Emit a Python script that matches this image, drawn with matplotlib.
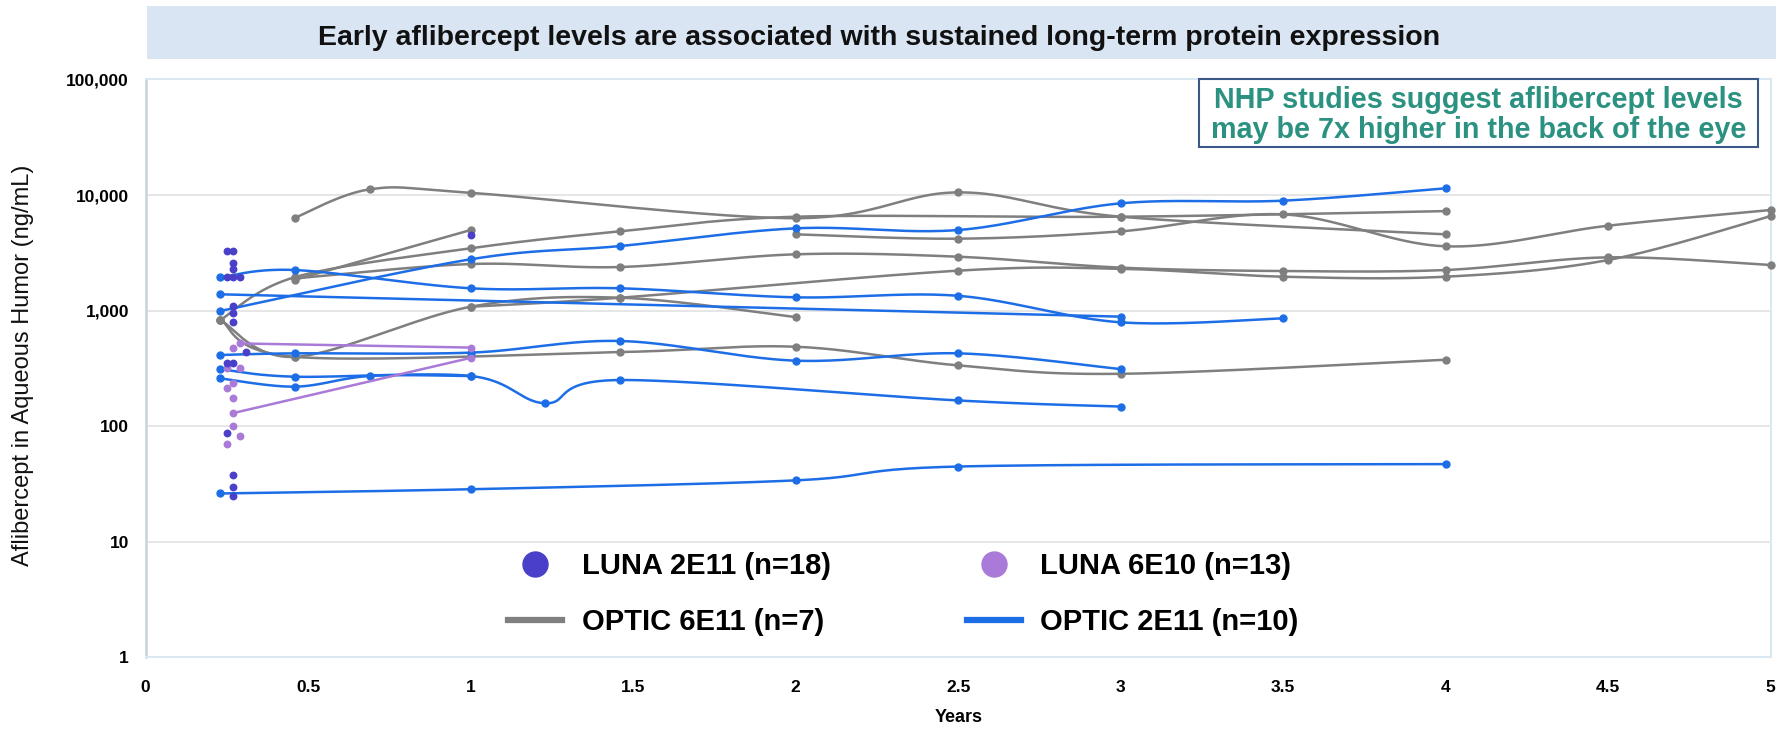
import numpy as np
import matplotlib
matplotlib.use("Agg")
import matplotlib.pyplot as plt
from matplotlib.lines import Line2D
from matplotlib.patches import Rectangle
from matplotlib.ticker import FixedLocator, FuncFormatter, NullLocator

plt.rcParams['font.family'] = ['Liberation Sans', 'DejaVu Sans']

# --- dados: concentração de aflibercept (ng/mL) por ano ---

# LUNA 2E11 (pontos individuais)
luna_2e11_x = [0.25, 0.27, 0.27, 0.27, 0.25, 0.27, 0.29, 0.27, 0.27, 0.27,
               0.31, 0.25, 0.27, 0.25, 0.27, 0.27, 0.27, 1.0]
luna_2e11_y = [3300, 3300, 2600, 2280, 1960, 1960, 1960, 1100, 950, 790,
               440, 355, 355, 87, 38, 30, 25, 4500]

# LUNA 6E10 (pontos individuais + dois olhos acompanhados até 1 ano)
luna_6e10_x = [0.29, 0.27, 0.25, 0.29, 0.27, 0.25, 0.27, 0.27, 0.27, 0.29, 0.25, 1.0, 1.0]
luna_6e10_y = [520, 473, 316, 316, 236, 214, 174, 130, 101, 82, 70, 479, 390]
luna_6e10_a_x = [0.29, 1.0]
luna_6e10_a_y = [520, 479]
luna_6e10_b_x = [0.27, 1.0]
luna_6e10_b_y = [130, 390]

# OPTIC 6E11
optic_6e11_1_x = [0.46, 0.69, 1, 2, 2.5, 3, 4]
optic_6e11_1_y = [6370, 11200, 10450, 6300, 10540, 6490, 4570]
optic_6e11_2_x = [0.23, 0.46, 1, 1.46, 2, 3, 4]
optic_6e11_2_y = [830, 1950, 3460, 4850, 6490, 6490, 7260]
optic_6e11_3_x = [0.46, 1]
optic_6e11_3_y = [1850, 4980]
optic_6e11_4_x = [2, 2.5, 3, 3.5, 4, 4.5, 5]
optic_6e11_4_y = [4570, 4190, 4850, 6800, 3600, 5430, 7420]
optic_6e11_5_x = [0.46, 1, 1.46, 2, 2.5, 3, 3.5, 4, 4.5, 5]
optic_6e11_5_y = [1900, 2530, 2383, 3070, 2926, 2354, 2200, 2245, 2890, 2480]
optic_6e11_6_x = [1, 1.46, 2.5, 3, 3.5, 4, 4.5, 5]
optic_6e11_6_y = [1080, 1293, 2217, 2300, 1965, 1965, 2740, 6580]
optic_6e11_7_x = [0.23, 0.46, 1, 1.46, 2]
optic_6e11_7_y = [830, 398, 1080, 1293, 880]
optic_6e11_8_x = [0.23, 0.46, 1.46, 2, 2.5, 3, 4]
optic_6e11_8_y = [830, 398, 438, 487, 336, 284, 376]

# OPTIC 2E11
optic_2e11_1_x = [0.23, 0.46, 1, 1.46, 2, 2.5, 3, 3.5]
optic_2e11_1_y = [1940, 2245, 1560, 1560, 1303, 1343, 792, 857]
optic_2e11_2_x = [0.23, 3]
optic_2e11_2_y = [1384, 887]
optic_2e11_3_x = [0.23, 1, 1.46, 2, 2.5, 3, 3.5, 4]
optic_2e11_3_y = [993, 2780, 3620, 5150, 4980, 8475, 8935, 11430]
optic_2e11_4_x = [0.23, 0.46, 1, 1.46, 2, 2.5, 3]
optic_2e11_4_y = [413, 427, 433, 546, 369, 427, 312]
optic_2e11_5_x = [0.23, 0.46, 1, 1.23, 1.46, 2.5, 3]
optic_2e11_5_y = [311, 268, 272, 158, 251, 167, 148]
optic_2e11_6_x = [0.23, 0.46, 0.69, 1]
optic_2e11_6_y = [259, 220, 272, 272]
optic_2e11_7_x = [0.23, 1, 2, 2.5, 4]
optic_2e11_7_y = [26.2, 28.5, 34, 44.8, 47]

optic_6e11 = [(optic_6e11_1_x, optic_6e11_1_y), (optic_6e11_2_x, optic_6e11_2_y),
              (optic_6e11_3_x, optic_6e11_3_y), (optic_6e11_4_x, optic_6e11_4_y),
              (optic_6e11_5_x, optic_6e11_5_y), (optic_6e11_6_x, optic_6e11_6_y),
              (optic_6e11_7_x, optic_6e11_7_y), (optic_6e11_8_x, optic_6e11_8_y)]
optic_2e11 = [(optic_2e11_1_x, optic_2e11_1_y), (optic_2e11_2_x, optic_2e11_2_y),
              (optic_2e11_3_x, optic_2e11_3_y), (optic_2e11_4_x, optic_2e11_4_y),
              (optic_2e11_5_x, optic_2e11_5_y), (optic_2e11_6_x, optic_2e11_6_y),
              (optic_2e11_7_x, optic_2e11_7_y)]

x_ticks = [0, 0.5, 1, 1.5, 2, 2.5, 3, 3.5, 4, 4.5, 5]
y_ticks = [1, 10, 100, 1000, 10000, 100000]

cor_cinza = '#7f7f7f'
cor_azul = '#1d6ee6'
cor_luna_2e11 = '#4a3fc8'
cor_luna_6e10 = '#a97ad8'


def suavizar(xs, ys, n=40):
    # curva suave tipo Excel (Bezier cubica), calculada em x linear / y log
    sx, sy = 325.0, 115.6
    P = np.column_stack([np.array(xs) * sx, np.log10(ys) * sy])
    pts = [P[0]]
    t = np.linspace(0, 1, n)[1:, None]
    for i in range(len(P) - 1):
        p0 = P[i - 1] if i > 0 else P[i]
        p1, p2 = P[i], P[i + 1]
        p3 = P[i + 2] if i + 2 < len(P) else P[i + 1]
        c1 = p1 + (p2 - p0) / 6
        c2 = p2 - (p3 - p1) / 6
        seg = (1 - t) ** 3 * p1 + 3 * (1 - t) ** 2 * t * c1 + 3 * (1 - t) * t ** 2 * c2 + t ** 3 * p2
        pts.extend(seg)
    pts = np.array(pts)
    return pts[:, 0] / sx, 10 ** (pts[:, 1] / sy)


fig = plt.figure(figsize=(17.78, 7.32), dpi=100)
ax = fig.add_axes([0.0819, 0.1019, 0.914, 0.7896])

# faixa do título
fig.patches.append(Rectangle((0.0827, 0.9194), 0.9162, 0.0724, transform=fig.transFigure,
                             facecolor='#dae5f3', edgecolor='none', zorder=0))
fig.text(0.4944, 0.948, 'Early aflibercept levels are associated with sustained long-term protein expression',
         ha='center', va='center', fontsize=20.5, fontweight='bold', color='#111111')

# linhas OPTIC
for xs, ys in optic_6e11:
    cx, cy = suavizar(xs, ys)
    ax.plot(cx, cy, color=cor_cinza, lw=1.8, zorder=2, clip_on=False)
    ax.plot(xs, ys, 'o', color=cor_cinza, ms=5, zorder=3, clip_on=False)
for xs, ys in optic_2e11:
    cx, cy = suavizar(xs, ys)
    ax.plot(cx, cy, color=cor_azul, lw=1.8, zorder=2, clip_on=False)
    ax.plot(xs, ys, 'o', color=cor_azul, ms=5, zorder=3, clip_on=False)

# LUNA
ax.plot(luna_6e10_a_x, luna_6e10_a_y, color=cor_luna_6e10, lw=1.8, zorder=4)
ax.plot(luna_6e10_b_x, luna_6e10_b_y, color=cor_luna_6e10, lw=1.8, zorder=4)
ax.scatter(luna_6e10_x, luna_6e10_y, s=32, color=cor_luna_6e10, zorder=5, linewidths=0)
ax.scatter(luna_2e11_x, luna_2e11_y, s=32, color=cor_luna_2e11, zorder=5, linewidths=0)

# eixos
ax.set_yscale('log')
ax.set_ylim(1, 100000)
ax.set_xlim(0, 5)
ax.yaxis.set_major_locator(FixedLocator(y_ticks))
ax.yaxis.set_minor_locator(NullLocator())
ax.yaxis.set_major_formatter(FuncFormatter(lambda v, p: f'{int(v):,}'))
ax.set_xticks(x_ticks)
ax.set_xticklabels([f'{v:g}' for v in x_ticks])
ax.tick_params(length=0, labelsize=12.5)
ax.tick_params(axis='x', pad=16)
ax.tick_params(axis='y', pad=12)
for lbl in ax.get_xticklabels() + ax.get_yticklabels():
    lbl.set_fontweight('bold')
ax.grid(axis='y', color='#e2e2e2', lw=1.2, zorder=0)
for lado in ['top', 'right', 'bottom']:
    ax.spines[lado].set_color('#dae8f3')
    ax.spines[lado].set_linewidth(1.5)
ax.spines['left'].set_color('#c8d2dc')
ax.spines['left'].set_linewidth(1.8)

ax.set_xlabel('Years', fontsize=13, fontweight='bold', labelpad=10)
ax.set_ylabel('Aflibercept in Aqueous Humor (ng/mL)', fontsize=17, color='#111111', va='center')
ax.yaxis.set_label_coords(-0.0755, 0.505)

# legenda
handles = [
    Line2D([], [], marker='o', ls='none', color=cor_luna_2e11, markersize=18),
    Line2D([], [], color=cor_cinza, lw=4.5),
    Line2D([], [], marker='o', ls='none', color=cor_luna_6e10, markersize=18),
    Line2D([], [], color=cor_azul, lw=4.5),
]
labels = ['LUNA 2E11 (n=18)', 'OPTIC 6E11 (n=7)', 'LUNA 6E10 (n=13)', 'OPTIC 2E11 (n=10)']
ax.legend(handles, labels, ncol=2, frameon=False, loc='upper left',
          bbox_to_anchor=(0.2857, 0.2459), bbox_transform=fig.transFigure,
          borderaxespad=0, borderpad=0, handlelength=1.85, handletextpad=0.68,
          columnspacing=4.66, labelspacing=0.95,
          prop={'size': 21, 'weight': 'bold'})

# caixa de observação
fig.patches.append(Rectangle((0.6744, 0.7992), 0.3144, 0.0929, transform=fig.transFigure,
                             facecolor='white', edgecolor='#3b5787', lw=1.5, zorder=10))
fig.text(0.8316, 0.8425, 'NHP studies suggest aflibercept levels\nmay be 7x higher in the back of the eye',
         ha='center', va='center', fontsize=20.7, fontweight='bold', color='#2b9180',
         linespacing=1.1, zorder=11)

plt.savefig('out.png', dpi=100)
